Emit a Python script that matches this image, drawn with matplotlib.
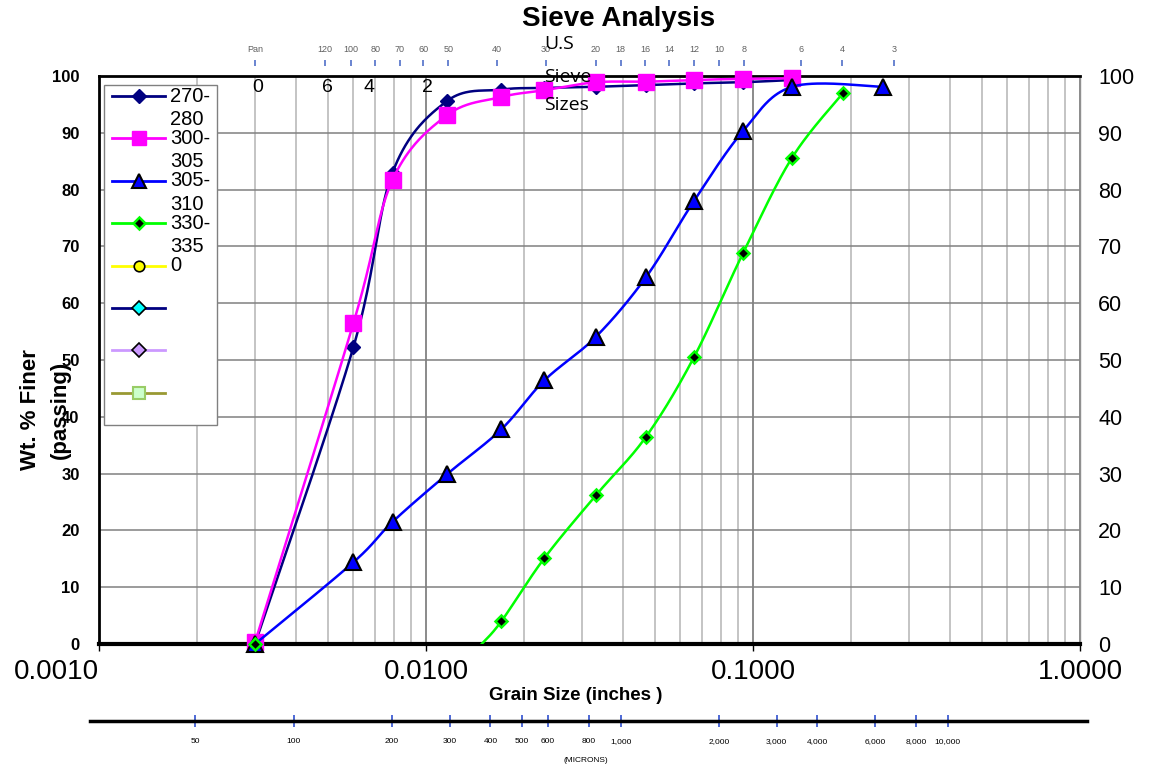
import numpy as np
import matplotlib
matplotlib.use("Agg")
import matplotlib.pyplot as plt
from matplotlib.transforms import blended_transform_factory
from matplotlib.ticker import FixedLocator, NullLocator, FuncFormatter, LogLocator
from matplotlib.patches import Rectangle
from matplotlib.lines import Line2D

plt.rcParams['font.family'] = ['Liberation Sans', 'DejaVu Sans']

# ---------------- data ----------------
sizes_in = [0.003, 0.006, 0.0079, 0.0116, 0.017, 0.023, 0.0331, 0.0471, 0.066, 0.0932, 0.1316]
s270_280 = [0, 52.3, 83.0, 95.6, 97.6, 97.9, 98.1, 98.4, 98.7, 98.9, 99.3]
s300_305 = [0.3, 56.5, 81.7, 93.1, 96.3, 97.5, 98.9, 99.0, 99.3, 99.5, 99.6]

sizes_305_310 = [0.003, 0.006, 0.0079, 0.0116, 0.017, 0.023, 0.0331, 0.0471, 0.066, 0.0932, 0.1316, 0.25]
s305_310 = [0, 14.4, 21.5, 29.9, 37.8, 46.4, 54.1, 64.6, 78.0, 90.3, 98.1, 98.1]

# 330-335: marker at 0.003 (0 %), line visible from where it leaves the 0 % axis
sizes_330_335 = [0.003, 0.0148, 0.017, 0.023, 0.0331, 0.0471, 0.066, 0.0932, 0.1316, 0.1884]
s330_335 = [0, 0, 4.0, 15.1, 26.2, 36.5, 50.5, 68.8, 85.6, 97.0]
line_330_335 = [1, 2, 3, 4, 5, 6, 7, 8, 9]
marked_330_335 = [0, 2, 3, 4, 5, 6, 7, 8, 9]

legend_labels = ["270-280", "300-305", "305-310", "330-335", "0", "", "", ""]

sieve_names = ["Pan", "120", "100", "80", "70", "60", "50", "40", "30", "20", "18",
               "16", "14", "12", "10", "8", "6", "4", "3"]
sieve_in = [0.003, 0.0049, 0.0059, 0.0070, 0.0083, 0.0098, 0.0117, 0.0165, 0.0232,
            0.0331, 0.0394, 0.0469, 0.0555, 0.0661, 0.0787, 0.0937, 0.140, 0.187, 0.270]
sieve_digits = ["0", "6", "4", "2"]
sieve_digit_in = [0.00306, 0.0050, 0.0067, 0.0101]

y_ticks = list(range(0, 101, 10))
x_ticks = [0.001, 0.01, 0.1, 1.0]
micron_ticks = [50, 100, 200, 300, 400, 500, 600, 800, 1000, 2000, 3000, 4000, 6000, 8000, 10000]

# ---------------- styles ----------------
styles = [
    dict(color='#000080', marker='D', ms=7, mfc='#000080', mec='#000080', mew=1),
    dict(color='#FF00FF', marker='s', ms=11, mfc='#FF00FF', mec='#FF00FF', mew=1),
    dict(color='#0000FF', marker='^', ms=11, mfc='#0000FF', mec='black', mew=1.5),
    dict(color='#00FF00', marker='D', ms=6.5, mfc='black', mec='#00FF00', mew=1.8),
    dict(color='#FFFF00', marker='o', ms=8, mfc='#FFFF00', mec='black', mew=1.2),
    dict(color='#000080', marker='D', ms=7, mfc='#00FFFF', mec='black', mew=1.2),
    dict(color='#CC99FF', marker='D', ms=7, mfc='#CC99FF', mec='black', mew=1.2),
    dict(color='#999933', marker='s', ms=9, mfc='#CCFFCC', mec='#99CC66', mew=1.5),
]


def smooth(xs, ys, n=40):
    """Excel-like smoothed line (uniform Catmull-Rom in log-x space)."""
    P = np.column_stack([np.log10(xs), ys])
    E = np.vstack([P[0], P, P[-1]])
    t = np.linspace(0, 1, n)[:, None]
    out = []
    for i in range(len(P) - 1):
        p0, p1, p2, p3 = E[i], E[i + 1], E[i + 2], E[i + 3]
        seg = 0.5 * ((2 * p1) + (-p0 + p2) * t + (2 * p0 - 5 * p1 + 4 * p2 - p3) * t ** 2
                     + (-p0 + 3 * p1 - 3 * p2 + p3) * t ** 3)
        out.append(seg if i == 0 else seg[1:])
    S = np.vstack(out)
    return 10 ** S[:, 0], S[:, 1]


W, H = 1154, 767
fig = plt.figure(figsize=(W / 100, H / 100), dpi=100)


def fx(px):
    return px / W


def fy(py):
    return 1 - py / H


AX_L, AX_R, AX_T, AX_B = 99, 1080, 76, 644
ax = fig.add_axes([fx(AX_L), fy(AX_B), (AX_R - AX_L) / W, (AX_B - AX_T) / H])
ax.set_xscale('log')
ax.set_xlim(x_ticks[0], x_ticks[-1])
ax.set_ylim(0, 100)

ax.xaxis.set_major_locator(FixedLocator(x_ticks))
ax.xaxis.set_minor_locator(LogLocator(base=10, subs=np.arange(2, 10)))
ax.xaxis.set_major_formatter(FuncFormatter(lambda v, p: f"{v:.4f}"))
ax.xaxis.set_minor_formatter(FuncFormatter(lambda v, p: ""))
ax.set_yticks(y_ticks)
ax.grid(which='minor', axis='x', color='#c4c4c4', lw=1.4)
ax.grid(which='major', axis='x', color='#8a8a8a', lw=1.4)
ax.grid(which='major', axis='y', color='#808080', lw=1.1)
ax.set_axisbelow(True)
ax.tick_params(axis='x', which='major', length=5, width=1, labelsize=20, pad=6)
ax.tick_params(axis='x', which='minor', length=0)
ax.tick_params(axis='y', length=0, pad=14)
for lab in ax.get_yticklabels():
    lab.set_fontweight('bold')
    lab.set_fontsize(12)
first = ax.get_xticklabels()[0]
first.set_ha('right')
for s, lw in [('left', 2), ('bottom', 3), ('top', 2)]:
    ax.spines[s].set_linewidth(lw)
    ax.spines[s].set_color('black')
ax.spines['right'].set_color('#909090')
ax.spines['right'].set_linewidth(1)

ax2 = ax.twinx()
ax2.set_ylim(0, 100)
ax2.set_yticks(y_ticks)
ax2.tick_params(axis='y', length=0, labelsize=15.5, pad=13)
for s in ax2.spines.values():
    s.set_visible(False)

# ---------------- series ----------------
series = [
    (sizes_in, s270_280, None, None),
    (sizes_in, s300_305, None, None),
    (sizes_305_310, s305_310, None, None),
    (sizes_330_335, s330_335, line_330_335, marked_330_335),
]
z = 3
for (xs, ys, ln, mk), st in zip(series, styles):
    xa = np.asarray(xs)
    ya = np.asarray(ys)
    xl, yl = (xa, ya) if ln is None else (xa[ln], ya[ln])
    sx, sy = smooth(xl, yl)
    ax.plot(sx, sy, color=st['color'], lw=1.8, zorder=z)
    xm, ym = (xa, ya) if mk is None else (xa[mk], ya[mk])
    ax.plot(xm, ym, ls='none', marker=st['marker'], ms=st['ms'], mfc=st['mfc'],
            mec=st['mec'], mew=st['mew'], zorder=z + 0.5, clip_on=False)
    z += 1

# ---------------- legend (Excel style) ----------------
ta = ax.transAxes
def afx(px):
    return (px - AX_L) / (AX_R - AX_L)
def afy(py):
    return (AX_B - py) / (AX_B - AX_T)

ax.add_patch(Rectangle((afx(104), afy(425)), afx(217) - afx(104), afy(85) - afy(425),
                       transform=ta, facecolor='white', edgecolor='#808080', lw=1,
                       zorder=20, clip_on=False))
for i, (lab, st) in enumerate(zip(legend_labels, styles)):
    py = 96 + i * 42.4
    ax.add_line(Line2D([afx(112), afx(165)], [afy(py), afy(py)], transform=ta,
                       color=st['color'], lw=2, zorder=21))
    ax.add_line(Line2D([afx(138.5)], [afy(py)], transform=ta, ls='none',
                       marker=st['marker'], ms=st['ms'] * 0.95, mfc=st['mfc'],
                       mec=st['mec'], mew=st['mew'], zorder=22))
    if '-' in lab:
        a, b = lab.split('-', 1)
        ax.text(afx(170), afy(py), a + '-', transform=ta, fontsize=14.5,
                va='center', ha='left', zorder=23)
        ax.text(afx(170), afy(py + 23.5), b, transform=ta, fontsize=14.5,
                va='center', ha='left', zorder=23)
    elif lab:
        ax.text(afx(170), afy(py), lab, transform=ta, fontsize=14.5,
                va='center', ha='left', zorder=23)

# ---------------- sieve labels on top ----------------
bt = blended_transform_factory(ax.transData, ax.transAxes)
for nm, xv in zip(sieve_names, sieve_in):
    ax.text(xv, afy(50), nm, transform=bt, fontsize=6.5, color='#606060',
            ha='center', va='center', clip_on=False)
ax.plot(sieve_in, [afy(63)] * len(sieve_in), transform=bt, ls='none', marker='|',
        ms=5, mew=1.2, color='#5070c8', clip_on=False)
for d, xv in zip(sieve_digits, sieve_digit_in):
    ax.text(xv, afy(88), d, transform=bt, fontsize=14, ha='center', va='center',
            color='black', zorder=2)

for txt, py in [("U.S", 44), ("Sieve", 77), ("Sizes", 105)]:
    fig.text(fx(544), fy(py), txt, fontsize=14, family=['Open Sans', 'DejaVu Sans'],
             ha='left', va='center', zorder=0.5)

# ---------------- titles ----------------
fig.text(fx(619), fy(19), "Sieve Analysis", fontsize=20, fontweight='bold',
         ha='center', va='center')
fig.text(fx(576), fy(695), "Grain Size (inches )", fontsize=13.5, fontweight='bold',
         ha='center', va='center')
fig.text(fx(30), fy(410), "Wt. % Finer", fontsize=16, fontweight='bold',
         rotation=90, ha='center', va='center')
fig.text(fx(60), fy(410), "(passing)", fontsize=16, fontweight='bold',
         rotation=90, ha='center', va='center')

# ---------------- micron scale ----------------
ML, MR, MY = 90, 1087, 721
axm = fig.add_axes([fx(ML), fy(MY), (MR - ML) / W, 1e-4])
axm.set_xscale('log')
um0 = x_ticks[0] * 25400
axm.set_xlim(um0 * 10 ** ((ML - AX_L) / 327), um0 * 10 ** ((MR - AX_L) / 327))
axm.xaxis.set_major_locator(FixedLocator(micron_ticks))
axm.xaxis.set_minor_locator(NullLocator())
axm.xaxis.set_major_formatter(FuncFormatter(lambda v, p: f"{int(round(v)):,}"))
axm.set_yticks([])
axm.tick_params(axis='x', direction='inout', length=9, width=1.2, color='#3050d0',
                labelsize=6, pad=8)
for s in ['left', 'right', 'top']:
    axm.spines[s].set_visible(False)
axm.spines['bottom'].set_linewidth(2.5)
axm.patch.set_visible(False)
fig.text(fx(586), fy(760), "(MICRONS)", fontsize=6, ha='center', va='center')

fig.savefig("out.png", dpi=100)
